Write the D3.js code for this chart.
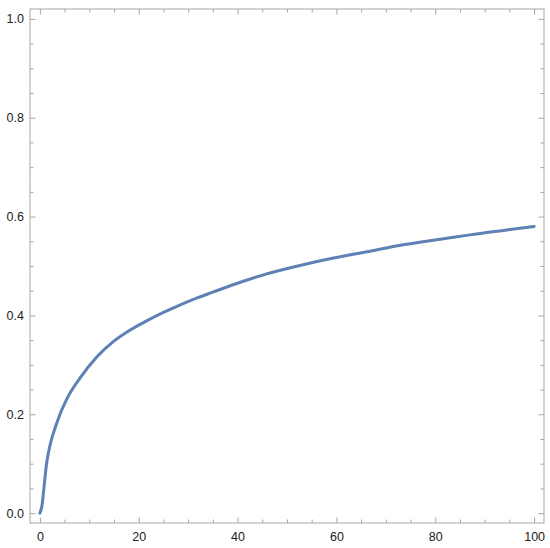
<!DOCTYPE html>
<html>
<head>
<meta charset="utf-8">
<script src="https://cdn.jsdelivr.net/npm/d3@7"></script>
<style>
	body { margin:0; background:#fff; }
	svg text { font-family:"Liberation Sans", Arial, sans-serif; font-size:12.5px; fill:#222; }
</style>
</head>
<body>
<svg id="chart" width="550" height="548"></svg>
<script>
//data
var xValues = [0, 0.45, 0.85, 1.35, 2, 3.4, 5.5, 8.1, 11.5, 14.85, 18.2, 21.6, 25, 28.3, 31.7, 35, 39.1, 45.9, 52.6, 59.4, 66.8, 73.5, 82.3, 87, 93.8, 100];
var yValues = [0, 0.017, 0.054, 0.10, 0.135, 0.182, 0.232, 0.273, 0.316, 0.347, 0.370, 0.389, 0.406, 0.421, 0.435, 0.447, 0.462, 0.484, 0.501, 0.516, 0.530, 0.543, 0.556, 0.563, 0.572, 0.580];
var xTickLabels = [0, 20, 40, 60, 80, 100];
var yTickLabels = [0.0, 0.2, 0.4, 0.6, 0.8, 1.0];

function buildChart(d3Selection)
{
	var svg = d3.select(d3Selection);
	var frame = {left:30, right:544, top:9, bottom:523};
	var frameColor = "#a6a6a6";

	var x = d3.scaleLinear().domain([-2, 102]).range([frame.left, frame.right]);
	var y = d3.scaleLinear().domain([-0.02, 1.02]).range([frame.bottom, frame.top]);

	//minor ticks every 5 on x, every 0.05 on y
	var xMinor = d3.range(0, 101, 5).filter(function(d) { return d % 20 != 0; });
	var yMinor = d3.range(0, 21).map(function(i) { return i / 20; }).filter(function(d, i) { return i % 4 != 0; });

	//ticks pointing inward on all four sides
	function drawTicks(axis, scale, transform, values, size, labels)
	{
		var g = svg.append("g").attr("transform", transform)
			.call(axis(scale).tickValues(values).tickSizeInner(-size).tickSizeOuter(0)
				.tickFormat(labels ? (scale === y ? d3.format(".1f") : d3.format("d")) : ""));
		g.select(".domain").remove();
		g.selectAll(".tick line").attr("stroke", frameColor);
		g.selectAll(".tick text").attr("fill", "#222");
		return g;
	}

	drawTicks(d3.axisBottom, x, "translate(0," + frame.bottom + ")", xTickLabels, 5.5, true)
		.selectAll(".tick text").attr("dy", "1.2em");
	drawTicks(d3.axisBottom, x, "translate(0," + frame.bottom + ")", xMinor, 3.5, false);
	drawTicks(d3.axisTop, x, "translate(0," + frame.top + ")", xTickLabels, 5.5, false);
	drawTicks(d3.axisTop, x, "translate(0," + frame.top + ")", xMinor, 3.5, false);

	drawTicks(d3.axisLeft, y, "translate(" + frame.left + ",0)", yTickLabels, 5.5, true)
		.selectAll(".tick text").attr("x", -6);
	drawTicks(d3.axisLeft, y, "translate(" + frame.left + ",0)", yMinor, 3.5, false);
	drawTicks(d3.axisRight, y, "translate(" + frame.right + ",0)", yTickLabels, 5.5, false);
	drawTicks(d3.axisRight, y, "translate(" + frame.right + ",0)", yMinor, 3.5, false);

	//frame
	svg.append("rect")
		.attr("x", frame.left).attr("y", frame.top)
		.attr("width", frame.right - frame.left).attr("height", frame.bottom - frame.top)
		.attr("fill", "none").attr("stroke", frameColor).attr("stroke-width", 1);

	//curve
	var points = xValues.map(function(d, i) { return [d, yValues[i]]; });
	var line = d3.line()
		.x(function(d) { return x(d[0]); })
		.y(function(d) { return y(d[1]); })
		.curve(d3.curveMonotoneX);

	svg.append("path")
		.datum(points)
		.attr("d", line)
		.attr("fill", "none")
		.attr("stroke", "#5e81b5")
		.attr("stroke-width", 3)
		.attr("stroke-linecap", "round")
		.attr("stroke-linejoin", "round");
}

buildChart("#chart");
</script>
</body>
</html>
